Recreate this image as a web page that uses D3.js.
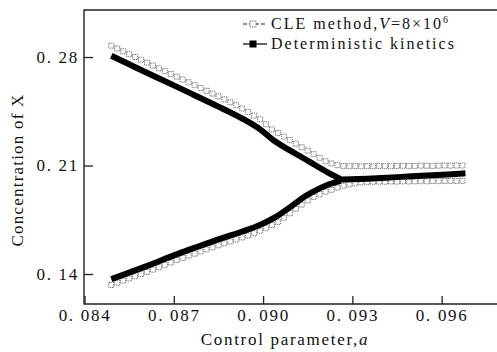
<!DOCTYPE html>
<html><head><meta charset="utf-8">
<script src="https://cdn.jsdelivr.net/npm/d3@7"></script>
<style>
body{margin:0;background:#fff}
svg{display:block}
text{font-family:"Liberation Serif","Times New Roman","DejaVu Serif",serif;fill:#111;letter-spacing:1.7px}
</style>
</head><body>
<svg id="c" width="497" height="352"></svg>
<script>
const xTicks = [0.084, 0.087, 0.090, 0.093, 0.096];
const xTickLabels = ["0. 084", "0. 087", "0. 090", "0. 093", "0. 096"];
const yTicks = [0.14, 0.21, 0.28];
const yTickLabels = ["0. 14", "0. 21", "0. 28"];

// Deterministic kinetics: two branches before bifurcation, one after
const detA = [0.0849, 0.0855, 0.0862, 0.0870, 0.0878, 0.0886, 0.0893, 0.0899, 0.0904, 0.0909, 0.0914, 0.0918, 0.0922, 0.0926];
const detUpper = [0.2808, 0.2753, 0.2689, 0.2617, 0.2544, 0.2471, 0.2403, 0.2333, 0.2256, 0.2198, 0.2142, 0.2097, 0.2053, 0.2014];
const detLower = [0.1367, 0.1409, 0.1459, 0.1520, 0.1576, 0.1630, 0.1674, 0.1717, 0.1765, 0.1830, 0.1900, 0.1943, 0.1977, 0.2001];
const mergedA = [0.0925, 0.0935, 0.0945, 0.0955, 0.0962, 0.0968];
const detMerged = [0.2008, 0.2015, 0.2025, 0.2035, 0.2042, 0.2050];

// CLE method, V = 8e6
const cleA = [0.0849,0.0851,0.0853,0.0855,0.0857,0.0859,0.0861,0.0863,0.0865,0.0867,
  0.0869,0.0871,0.0873,0.0875,0.0877,0.0879,0.0881,0.0883,0.0885,0.0887,
  0.0889,0.0891,0.0893,0.0895,0.0897,0.0899,0.0901,0.0903,0.0905,0.0907,
  0.0909,0.0911,0.0913,0.0915,0.0917,0.0919,0.0921,0.0923,0.0925,0.0927,
  0.0929,0.0931,0.0933,0.0935,0.0937,0.0939,0.0941,0.0943,0.0945,0.0947,
  0.0949,0.0951,0.0953,0.0955,0.0957,0.0959,0.0961,0.0963,0.0965,0.0967];
const cleUpper = [0.2873,0.2855,0.2837,0.2818,0.2800,0.2782,0.2764,0.2745,0.2727,0.2709,
  0.2691,0.2673,0.2655,0.2637,0.2618,0.2600,0.2582,0.2564,0.2546,0.2527,
  0.2508,0.2489,0.2468,0.2445,0.2422,0.2398,0.2366,0.2333,0.2310,0.2287,
  0.2264,0.2241,0.2218,0.2196,0.2173,0.2150,0.2127,0.2113,0.2102,0.2097,
  0.2095,0.2096,0.2094,0.2096,0.2095,0.2097,0.2096,0.2095,0.2097,0.2098,
  0.2096,0.2097,0.2099,0.2098,0.2097,0.2099,0.2100,0.2099,0.2100,0.2100];
const cleLower = [0.1329,0.1343,0.1357,0.1371,0.1385,0.1399,0.1413,0.1428,0.1443,0.1459,
  0.1474,0.1490,0.1504,0.1518,0.1531,0.1545,0.1558,0.1572,0.1585,0.1598,
  0.1610,0.1623,0.1636,0.1649,0.1663,0.1679,0.1695,0.1716,0.1736,0.1763,
  0.1792,0.1821,0.1848,0.1875,0.1897,0.1915,0.1931,0.1943,0.1957,0.1969,
  0.1978,0.1986,0.1991,0.1994,0.1995,0.1996,0.1995,0.1997,0.1996,0.1998,
  0.1997,0.1998,0.1999,0.1998,0.2000,0.1999,0.2000,0.2001,0.2000,0.2001];

const svg = d3.select("#c");
const L = 84, R = 497, T = 10, B = 304;
const x = d3.scaleLinear().domain([0.083983, 0.09786]).range([L, R]);
const y = d3.scaleLinear().domain([0.12065, 0.31032]).range([B, T]);
const FF = '"Liberation Serif","Times New Roman","DejaVu Serif",serif';
const fs = 17;

// frame
svg.append("path").attr("d", `M${R},${T}H${L}V${B}H${R}`)
  .attr("stroke", "#222").attr("stroke-width", 1.4).attr("fill", "none");

// axes
const xAxis = svg.append("g").attr("transform", `translate(0,${B})`)
  .call(d3.axisBottom(x).tickValues(xTicks).tickSize(-8).tickPadding(5)
    .tickFormat((d, i) => xTickLabels[i]));
const yAxis = svg.append("g").attr("transform", `translate(${L},0)`)
  .call(d3.axisLeft(y).tickValues(yTicks).tickSize(-9).tickPadding(5)
    .tickFormat((d, i) => yTickLabels[i]));
[xAxis, yAxis].forEach(g => {
  g.select(".domain").remove();
  g.selectAll(".tick line").attr("stroke", "#222").attr("stroke-width", 1.3);
  g.selectAll(".tick text").attr("font-size", fs).attr("font-family", FF).attr("fill", "#111");
});

// axis titles
const xt = svg.append("text").attr("x", 285).attr("y", 345).attr("text-anchor", "middle")
  .attr("font-size", fs).attr("font-family", FF);
xt.append("tspan").text("Control parameter,");
xt.append("tspan").attr("font-style", "italic").text("a");
svg.append("text").attr("transform", "translate(23,170) rotate(-90)").attr("text-anchor", "middle")
  .attr("font-size", fs).attr("font-family", FF).style("letter-spacing", "1.2px").text("Concentration of X");

// CLE markers
const sq = 5;
function cleMarks(vals) {
  svg.append("g").selectAll("rect").data(cleA).join("rect")
    .attr("x", (d) => x(d) - sq / 2)
    .attr("y", (d, i) => y(vals[i]) - sq / 2)
    .attr("width", sq).attr("height", sq)
    .attr("fill", "none").attr("stroke", "#555").attr("stroke-width", 0.8)
    .attr("stroke-dasharray", "1.3,0.8");
}
cleMarks(cleUpper);
cleMarks(cleLower);

// deterministic
const line = d3.line().x(d => x(d[0])).y(d => y(d[1])).curve(d3.curveMonotoneX);
const detG = svg.append("g").attr("fill", "none").attr("stroke", "#000").attr("stroke-width", 6);
detG.append("path").attr("d", line(detA.map((a, i) => [a, detUpper[i]])));
detG.append("path").attr("d", line(detA.map((a, i) => [a, detLower[i]])));
detG.append("path").attr("d", line(mergedA.map((a, i) => [a, detMerged[i]])));

// legend
const lfs = 16;
const lg = svg.append("g");
const r1 = 24, r2 = 44, lx0 = 243, lx1 = 267, mx = 253, tx = 271;
lg.append("line").attr("x1", lx0).attr("x2", lx1).attr("y1", r1).attr("y2", r1)
  .attr("stroke", "#222").attr("stroke-width", 1.1).attr("stroke-dasharray", "4,2");
lg.append("rect").attr("x", mx - 3).attr("y", r1 - 3).attr("width", 6).attr("height", 6)
  .attr("fill", "#fff").attr("stroke", "#555").attr("stroke-width", 0.8).attr("stroke-dasharray", "1.3,0.8");
lg.append("line").attr("x1", lx0).attr("x2", lx1).attr("y1", r2).attr("y2", r2).attr("stroke", "#111").attr("stroke-width", 1.3);
lg.append("rect").attr("x", mx - 3.5).attr("y", r2 - 3.5).attr("width", 7).attr("height", 7).attr("fill", "#000");
const t1 = lg.append("text").attr("x", tx).attr("y", r1 + 5).attr("font-size", lfs).attr("font-family", FF)
  .style("letter-spacing", "2px");
t1.append("tspan").text("CLE method,");
t1.append("tspan").attr("font-style", "italic").text("V");
t1.append("tspan").text("=8×10");
t1.append("tspan").attr("font-size", 10).attr("dy", -6).text("6");
lg.append("text").attr("x", tx).attr("y", r2 + 5).attr("font-size", lfs).attr("font-family", FF)
  .style("letter-spacing", "2px").text("Deterministic kinetics");
</script>
</body></html>
